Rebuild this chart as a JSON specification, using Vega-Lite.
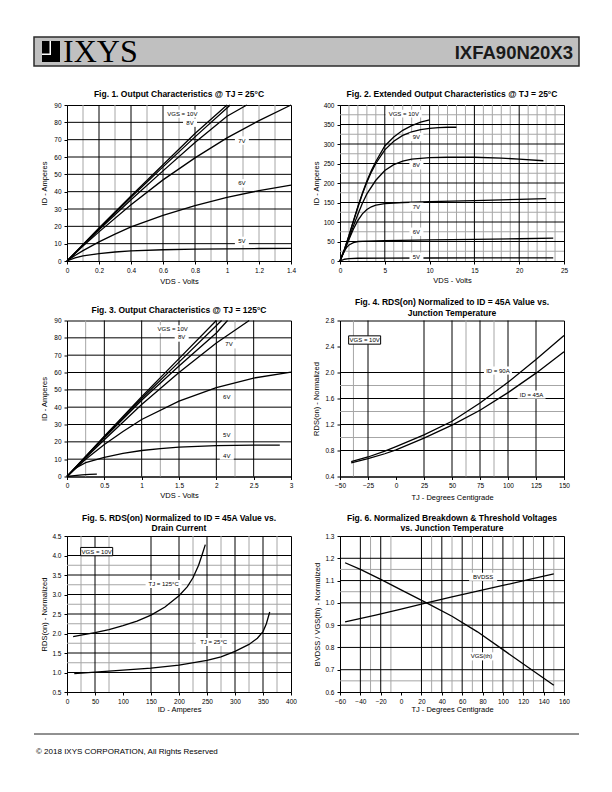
{
"$schema":"https://vega.github.io/schema/vega-lite/v6.json",
"background":"white",
"padding":{"left":33,"top":36,"right":0,"bottom":0},
"spacing":19,
"config":{
 "font":"Liberation Sans",
 "view":{"stroke":"black","strokeWidth":1},
 "axis":{"grid":false,"domainColor":"black","domainWidth":1,"tickColor":"black","tickSize":3,"tickWidth":1,"labelFontSize":6.5,"labelColor":"black","labelFont":"Liberation Sans","labelPadding":3,"titleFontSize":7.5,"titleFontWeight":"normal","titleColor":"black","titleFont":"Liberation Sans","labelFlush":false,"labelOverlap":false},
 "title":{"fontSize":8.5,"fontWeight":"bold","font":"Liberation Sans","color":"black","frame":"group","anchor":"middle","baseline":"alphabetic","lineHeight":10.5},
 "text":{"font":"Liberation Sans"}
},
"datasets":{
 "hdrBox":[{"x":0,"x2":545,"y":4,"y2":33}],
 "hdrIcon":[{"p":"ink","x":8,"x2":26,"y":8,"y2":29},{"p":"gap","x":15.5,"x2":17,"y":15,"y2":29},{"p":"gap","x":8,"x2":17,"y":15,"y2":16.5}],
 "hdrText":[{"x":29,"y":8,"t":"IXYS"},{"x":539,"y":11.5,"t":"IXFA90N20X3"}],
 "ftrLine":[{"y":22}],
 "ftrText":[{"x":2,"y":2,"t":"© 2018 IXYS CORPORATION, All Rights Reserved"}],
 "g1":[{"k":"vm","x":0.1},{"k":"vm","x":0.3},{"k":"vm","x":0.5},{"k":"vm","x":0.7},{"k":"vm","x":0.9},{"k":"vm","x":1.1},{"k":"vm","x":1.2},{"k":"vm","x":1.3},{"k":"vM","x":0.2},{"k":"vM","x":0.4},{"k":"vM","x":0.6},{"k":"vM","x":0.8},{"k":"vM","x":1.0},{"k":"hM","y":10},{"k":"hM","y":20},{"k":"hM","y":30},{"k":"hM","y":40},{"k":"hM","y":50},{"k":"hM","y":60},{"k":"hM","y":70},{"k":"hM","y":80}],
 "g2":[{"k":"vm","x":1},{"k":"vm","x":2},{"k":"vm","x":3},{"k":"vm","x":4},{"k":"vm","x":6},{"k":"vm","x":7},{"k":"vm","x":8},{"k":"vm","x":9},{"k":"vm","x":11},{"k":"vm","x":12},{"k":"vm","x":13},{"k":"vm","x":14},{"k":"vm","x":16},{"k":"vm","x":17},{"k":"vm","x":18},{"k":"vm","x":19},{"k":"vm","x":21},{"k":"vm","x":22},{"k":"vm","x":23},{"k":"vm","x":24},{"k":"vM","x":5},{"k":"vM","x":10},{"k":"vM","x":15},{"k":"vM","x":20},{"k":"hm","y":25},{"k":"hm","y":75},{"k":"hm","y":125},{"k":"hm","y":175},{"k":"hm","y":225},{"k":"hm","y":275},{"k":"hm","y":325},{"k":"hm","y":375},{"k":"hM","y":50},{"k":"hM","y":100},{"k":"hM","y":150},{"k":"hM","y":200},{"k":"hM","y":250},{"k":"hM","y":300},{"k":"hM","y":350}],
 "g3":[{"k":"vm","x":0.25},{"k":"vm","x":1.25},{"k":"vm","x":2.25},{"k":"vM","x":0.5},{"k":"vM","x":1},{"k":"vM","x":1.5},{"k":"vM","x":2},{"k":"vM","x":2.5},{"k":"hM","y":10},{"k":"hM","y":20},{"k":"hM","y":30},{"k":"hM","y":40},{"k":"hM","y":50},{"k":"hM","y":60},{"k":"hM","y":70},{"k":"hM","y":80}],
 "g4":[{"k":"vm","x":-38},{"k":"vm","x":62.5},{"k":"vm","x":87.5},{"k":"vM","x":-25},{"k":"vM","x":25},{"k":"vM","x":50},{"k":"vM","x":75},{"k":"vM","x":100},{"k":"vM","x":125},{"k":"hm","y":1.0},{"k":"hm","y":1.4},{"k":"hm","y":1.8},{"k":"hM","y":0.8},{"k":"hM","y":1.2},{"k":"hM","y":1.6},{"k":"hM","y":2.0}],
 "g5":[{"k":"vm","x":25},{"k":"vm","x":75},{"k":"vm","x":225},{"k":"vm","x":275},{"k":"vm","x":325},{"k":"vm","x":375},{"k":"vM","x":50},{"k":"vM","x":150},{"k":"vM","x":200},{"k":"vM","x":250},{"k":"vM","x":300},{"k":"vM","x":350},{"k":"hm","y":1.25},{"k":"hm","y":1.75},{"k":"hm","y":2.25},{"k":"hm","y":2.75},{"k":"hm","y":3.25},{"k":"hm","y":3.75},{"k":"hM","y":1.0},{"k":"hM","y":1.5},{"k":"hM","y":2.0},{"k":"hM","y":2.5},{"k":"hM","y":3.0},{"k":"hM","y":3.5},{"k":"hM","y":4.0}],
 "g6":[{"k":"vm","x":-30},{"k":"vm","x":-10},{"k":"vm","x":30},{"k":"vm","x":50},{"k":"vm","x":70},{"k":"vm","x":90},{"k":"vm","x":110},{"k":"vm","x":130},{"k":"vm","x":150},{"k":"vM","x":-40},{"k":"vM","x":-20},{"k":"vM","x":20},{"k":"vM","x":40},{"k":"vM","x":60},{"k":"vM","x":80},{"k":"vM","x":100},{"k":"vM","x":120},{"k":"vM","x":140},{"k":"hm","y":0.65},{"k":"hm","y":1.05},{"k":"hm","y":1.15},{"k":"hM","y":0.7},{"k":"hM","y":0.8},{"k":"hM","y":0.9},{"k":"hM","y":1.0},{"k":"hM","y":1.1},{"k":"hM","y":1.2}],
 "c1":[
  {"s":"10V","x":0,"y":0},{"s":"10V","x":0.1,"y":9.5},{"s":"10V","x":0.2,"y":19},{"s":"10V","x":0.4,"y":37.5},{"s":"10V","x":0.6,"y":55.5},{"s":"10V","x":0.8,"y":73.5},{"s":"10V","x":1.0,"y":90},
  {"s":"9V","x":0,"y":0},{"s":"9V","x":0.1,"y":9.3},{"s":"9V","x":0.2,"y":18.6},{"s":"9V","x":0.4,"y":36.8},{"s":"9V","x":0.6,"y":54.3},{"s":"9V","x":0.8,"y":71.6},{"s":"9V","x":1.0,"y":88.3},{"s":"9V","x":1.02,"y":90},
  {"s":"8V","x":0,"y":0},{"s":"8V","x":0.1,"y":9.1},{"s":"8V","x":0.2,"y":18},{"s":"8V","x":0.4,"y":35.3},{"s":"8V","x":0.6,"y":52},{"s":"8V","x":0.8,"y":68.3},{"s":"8V","x":1.0,"y":83.5},{"s":"8V","x":1.124,"y":90},
  {"s":"7V","x":0,"y":0},{"s":"7V","x":0.1,"y":8.6},{"s":"7V","x":0.2,"y":16.8},{"s":"7V","x":0.4,"y":32.5},{"s":"7V","x":0.6,"y":46.8},{"s":"7V","x":0.8,"y":59.5},{"s":"7V","x":1.0,"y":71},{"s":"7V","x":1.2,"y":81},{"s":"7V","x":1.4,"y":90},
  {"s":"6V","x":0,"y":0},{"s":"6V","x":0.05,"y":3.2},{"s":"6V","x":0.1,"y":6},{"s":"6V","x":0.2,"y":11},{"s":"6V","x":0.3,"y":15.5},{"s":"6V","x":0.4,"y":19.7},{"s":"6V","x":0.6,"y":26.3},{"s":"6V","x":0.8,"y":31.9},{"s":"6V","x":1.0,"y":36.7},{"s":"6V","x":1.2,"y":40.6},{"s":"6V","x":1.4,"y":43.8},
  {"s":"5V","x":0,"y":0},{"s":"5V","x":0.05,"y":1.8},{"s":"5V","x":0.1,"y":2.9},{"s":"5V","x":0.2,"y":4.2},{"s":"5V","x":0.3,"y":5.2},{"s":"5V","x":0.4,"y":5.8},{"s":"5V","x":0.6,"y":6.5},{"s":"5V","x":0.8,"y":6.8},{"s":"5V","x":1.0,"y":7.0},{"s":"5V","x":1.2,"y":7.2},{"s":"5V","x":1.4,"y":7.3}],
 "c2":[
  {"s":"10V","x":0,"y":0},{"s":"10V","x":0.5,"y":30},{"s":"10V","x":1,"y":65},{"s":"10V","x":1.5,"y":103},{"s":"10V","x":2,"y":140},{"s":"10V","x":2.5,"y":174},{"s":"10V","x":3,"y":205},{"s":"10V","x":3.5,"y":232},{"s":"10V","x":4,"y":255},{"s":"10V","x":5,"y":295},{"s":"10V","x":6,"y":318},{"s":"10V","x":7,"y":335},{"s":"10V","x":8,"y":347},{"s":"10V","x":9,"y":356},{"s":"10V","x":10,"y":362},
  {"s":"9V","x":0,"y":0},{"s":"9V","x":0.5,"y":30},{"s":"9V","x":1,"y":65},{"s":"9V","x":1.5,"y":102},{"s":"9V","x":2,"y":138},{"s":"9V","x":2.5,"y":172},{"s":"9V","x":3,"y":202},{"s":"9V","x":3.5,"y":228},{"s":"9V","x":4,"y":250},{"s":"9V","x":5,"y":285},{"s":"9V","x":6,"y":307},{"s":"9V","x":7,"y":322},{"s":"9V","x":8,"y":331},{"s":"9V","x":9,"y":337},{"s":"9V","x":10,"y":340},{"s":"9V","x":11,"y":342},{"s":"9V","x":12,"y":343},{"s":"9V","x":13,"y":343},
  {"s":"8V","x":0,"y":0},{"s":"8V","x":0.5,"y":28},{"s":"8V","x":1,"y":58},{"s":"8V","x":1.5,"y":90},{"s":"8V","x":2,"y":120},{"s":"8V","x":2.5,"y":148},{"s":"8V","x":3,"y":172},{"s":"8V","x":4,"y":207},{"s":"8V","x":5,"y":232},{"s":"8V","x":6,"y":247},{"s":"8V","x":7,"y":256},{"s":"8V","x":8,"y":261},{"s":"8V","x":10,"y":265},{"s":"8V","x":12,"y":266},{"s":"8V","x":15,"y":266},{"s":"8V","x":18,"y":264},{"s":"8V","x":20,"y":261},{"s":"8V","x":22.7,"y":257},
  {"s":"7V","x":0,"y":0},{"s":"7V","x":0.5,"y":27},{"s":"7V","x":1,"y":55},{"s":"7V","x":1.5,"y":82},{"s":"7V","x":2,"y":104},{"s":"7V","x":2.5,"y":121},{"s":"7V","x":3,"y":132},{"s":"7V","x":3.5,"y":139},{"s":"7V","x":4,"y":143},{"s":"7V","x":5,"y":147},{"s":"7V","x":7,"y":150},{"s":"7V","x":10,"y":152},{"s":"7V","x":15,"y":155},{"s":"7V","x":20,"y":158},{"s":"7V","x":23,"y":160},
  {"s":"6V","x":0,"y":0},{"s":"6V","x":0.25,"y":14},{"s":"6V","x":0.5,"y":26},{"s":"6V","x":0.75,"y":35},{"s":"6V","x":1,"y":41},{"s":"6V","x":1.5,"y":47},{"s":"6V","x":2,"y":50},{"s":"6V","x":3,"y":51},{"s":"6V","x":5,"y":52},{"s":"6V","x":10,"y":54},{"s":"6V","x":15,"y":55.5},{"s":"6V","x":20,"y":57},{"s":"6V","x":23.8,"y":58.5},
  {"s":"5V","x":0,"y":0},{"s":"5V","x":0.25,"y":2.5},{"s":"5V","x":0.5,"y":4.5},{"s":"5V","x":1,"y":6},{"s":"5V","x":2,"y":7},{"s":"5V","x":5,"y":7.5},{"s":"5V","x":10,"y":7.7},{"s":"5V","x":15,"y":7.8},{"s":"5V","x":20,"y":7.9},{"s":"5V","x":23.8,"y":8}],
 "c3":[
  {"s":"10V","x":0,"y":0},{"s":"10V","x":0.25,"y":11.6},{"s":"10V","x":0.5,"y":23.2},{"s":"10V","x":1,"y":46},{"s":"10V","x":1.5,"y":68},{"s":"10V","x":2,"y":90},
  {"s":"9V","x":0,"y":0},{"s":"9V","x":0.25,"y":11.5},{"s":"9V","x":0.5,"y":22.9},{"s":"9V","x":1,"y":45},{"s":"9V","x":1.5,"y":66},{"s":"9V","x":2.07,"y":90},
  {"s":"8V","x":0,"y":0},{"s":"8V","x":0.25,"y":11.3},{"s":"8V","x":0.5,"y":22.4},{"s":"8V","x":1,"y":44},{"s":"8V","x":1.5,"y":63.8},{"s":"8V","x":2,"y":82.8},{"s":"8V","x":2.15,"y":90},
  {"s":"7V","x":0,"y":0},{"s":"7V","x":0.25,"y":10.8},{"s":"7V","x":0.5,"y":21.2},{"s":"7V","x":1,"y":41.5},{"s":"7V","x":1.5,"y":60},{"s":"7V","x":2,"y":77},{"s":"7V","x":2.44,"y":90},
  {"s":"6V","x":0,"y":0},{"s":"6V","x":0.25,"y":10},{"s":"6V","x":0.5,"y":18.5},{"s":"6V","x":0.75,"y":26},{"s":"6V","x":1,"y":32.9},{"s":"6V","x":1.5,"y":43.5},{"s":"6V","x":2,"y":51.3},{"s":"6V","x":2.5,"y":56.8},{"s":"6V","x":3,"y":60.2},
  {"s":"5V","x":0,"y":0},{"s":"5V","x":0.1,"y":4.5},{"s":"5V","x":0.25,"y":8},{"s":"5V","x":0.5,"y":11},{"s":"5V","x":0.75,"y":13.3},{"s":"5V","x":1,"y":15},{"s":"5V","x":1.25,"y":16.1},{"s":"5V","x":1.5,"y":16.9},{"s":"5V","x":2,"y":17.8},{"s":"5V","x":2.5,"y":18.1},{"s":"5V","x":2.85,"y":18.1},
  {"s":"4V","x":0,"y":0},{"s":"4V","x":0.1,"y":0.5},{"s":"4V","x":0.2,"y":0.9},{"s":"4V","x":0.3,"y":1.2},{"s":"4V","x":0.4,"y":1.4}],
 "c4":[
  {"s":"90A","x":-40,"y":0.63},{"s":"90A","x":-25,"y":0.70},{"s":"90A","x":-10,"y":0.79},{"s":"90A","x":0,"y":0.86},{"s":"90A","x":25,"y":1.04},{"s":"90A","x":50,"y":1.25},{"s":"90A","x":75,"y":1.53},{"s":"90A","x":100,"y":1.85},{"s":"90A","x":125,"y":2.20},{"s":"90A","x":150,"y":2.57},
  {"s":"45A","x":-40,"y":0.61},{"s":"45A","x":-25,"y":0.675},{"s":"45A","x":-10,"y":0.75},{"s":"45A","x":0,"y":0.81},{"s":"45A","x":25,"y":0.99},{"s":"45A","x":50,"y":1.19},{"s":"45A","x":75,"y":1.42},{"s":"45A","x":100,"y":1.69},{"s":"45A","x":125,"y":1.99},{"s":"45A","x":150,"y":2.32}],
 "c5":[
  {"s":"125C","x":11,"y":1.92},{"s":"125C","x":25,"y":1.96},{"s":"125C","x":50,"y":2.02},{"s":"125C","x":75,"y":2.10},{"s":"125C","x":100,"y":2.20},{"s":"125C","x":125,"y":2.32},{"s":"125C","x":150,"y":2.47},{"s":"125C","x":175,"y":2.68},{"s":"125C","x":200,"y":2.97},{"s":"125C","x":215,"y":3.2},{"s":"125C","x":225,"y":3.43},{"s":"125C","x":235,"y":3.75},{"s":"125C","x":242,"y":4.05},{"s":"125C","x":247,"y":4.28},
  {"s":"25C","x":13,"y":0.97},{"s":"25C","x":50,"y":1.01},{"s":"25C","x":100,"y":1.06},{"s":"25C","x":150,"y":1.11},{"s":"25C","x":200,"y":1.19},{"s":"25C","x":250,"y":1.31},{"s":"25C","x":275,"y":1.40},{"s":"25C","x":300,"y":1.54},{"s":"25C","x":325,"y":1.72},{"s":"25C","x":340,"y":1.88},{"s":"25C","x":350,"y":2.05},{"s":"25C","x":356,"y":2.25},{"s":"25C","x":362,"y":2.55}],
 "c6":[
  {"s":"vgs","x":-55,"y":1.18},{"s":"vgs","x":-40,"y":1.15},{"s":"vgs","x":-20,"y":1.105},{"s":"vgs","x":0,"y":1.058},{"s":"vgs","x":25,"y":1.0},{"s":"vgs","x":50,"y":0.94},{"s":"vgs","x":75,"y":0.87},{"s":"vgs","x":100,"y":0.79},{"s":"vgs","x":125,"y":0.71},{"s":"vgs","x":150,"y":0.63},
  {"s":"bv","x":-55,"y":0.915},{"s":"bv","x":-25,"y":0.945},{"s":"bv","x":0,"y":0.972},{"s":"bv","x":25,"y":1.0},{"s":"bv","x":50,"y":1.027},{"s":"bv","x":75,"y":1.053},{"s":"bv","x":100,"y":1.078},{"s":"bv","x":125,"y":1.104},{"s":"bv","x":150,"y":1.13}],
 "l1":[{"x":0.721,"y":85,"t":"VGS = 10V"},{"x":0.769,"y":79.8,"t":"8V"},{"x":1.093,"y":69.5,"t":"7V"},{"x":1.093,"y":44.8,"t":"6V"},{"x":1.093,"y":11.6,"t":"5V"}],
 "l2":[{"x":7.12,"y":377.8,"t":"VGS = 10V"},{"x":8.53,"y":318,"t":"9V"},{"x":8.53,"y":245.6,"t":"8V"},{"x":8.53,"y":139,"t":"7V"},{"x":8.53,"y":75,"t":"6V"},{"x":8.53,"y":11,"t":"5V"}],
 "l3":[{"x":1.415,"y":85,"t":"VGS = 10V"},{"x":1.536,"y":80.2,"t":"8V"},{"x":2.17,"y":76.3,"t":"7V"},{"x":2.14,"y":45.6,"t":"6V"},{"x":2.14,"y":23.7,"t":"5V"},{"x":2.14,"y":12.1,"t":"4V"}],
 "l4":[{"x":-28,"y":2.5,"t":"VGS = 10V"},{"x":91,"y":2.03,"t":"ID = 90A"},{"x":121,"y":1.66,"t":"ID = 45A"}],
 "l5":[{"x":53,"y":4.1,"t":"VGS = 10V"},{"x":172.5,"y":3.27,"t":"TJ = 125°C"},{"x":262,"y":1.78,"t":"TJ = 25°C"}],
 "l6":[{"x":80.6,"y":1.117,"t":"BVDSS"},{"x":79,"y":0.76,"t":"VGS(th)"}]
},
"vconcat":[
 {
  "width":545,"height":33,"view":{"stroke":null},
  "layer":[
   {"data":{"name":"hdrBox"},"mark":{"type":"rect","color":"#c0c0c0","stroke":"#2b2b2b","strokeWidth":1.5},"encoding":{"x":{"field":"x","type":"quantitative","scale":{"domain":[0,545],"nice":false,"zero":false},"axis":null},"x2":{"field":"x2"},"y":{"field":"y","type":"quantitative","scale":{"domain":[0,33],"nice":false,"zero":false},"axis":null},"y2":{"field":"y2"}}},
   {"data":{"name":"hdrIcon"},"transform":[{"filter":"datum.p == 'ink'"}],"mark":{"type":"rect","color":"black"},"encoding":{"x":{"field":"x","type":"quantitative","axis":null},"x2":{"field":"x2"},"y":{"field":"y","type":"quantitative","axis":null},"y2":{"field":"y2"}}},
   {"data":{"name":"hdrIcon"},"transform":[{"filter":"datum.p == 'gap'"}],"mark":{"type":"rect","color":"white"},"encoding":{"x":{"field":"x","type":"quantitative","axis":null},"x2":{"field":"x2"},"y":{"field":"y","type":"quantitative","axis":null},"y2":{"field":"y2"}}},
   {"data":{"name":"hdrText"},"transform":[{"filter":"datum.t == 'IXYS'"}],"mark":{"type":"text","font":"Liberation Serif","fontSize":32,"align":"left","baseline":"alphabetic","color":"black"},"encoding":{"x":{"field":"x","type":"quantitative","axis":null},"y":{"field":"y","type":"quantitative","axis":null},"text":{"field":"t"}}},
   {"data":{"name":"hdrText"},"transform":[{"filter":"datum.t != 'IXYS'"}],"mark":{"type":"text","font":"Liberation Sans","fontWeight":"bold","fontSize":18.5,"align":"right","baseline":"alphabetic","color":"#1a1a1a"},"encoding":{"x":{"field":"x","type":"quantitative","axis":null},"y":{"field":"y","type":"quantitative","axis":null},"text":{"field":"t"}}}
  ]
 },
 {
  "hconcat":[
   {"width":6,"height":2,"view":{"stroke":null,"fill":"white"},"data":{"values":[]},"mark":"point"},
   {
    "columns":2,"spacing":{"row":59.5,"column":49},"bounds":"flush",
    "concat":[
     {"width":224,"height":156,"title":{"text":"Fig. 1. Output Characteristics @ TJ = 25°C","offset":3.5},
      "layer":[
       {"data":{"name":"g1"},"transform":[{"filter":"datum.k == 'vm'"}],"mark":{"type":"rule","color":"#a6a6a6","strokeWidth":1},"encoding":{"x":{"field":"x","type":"quantitative"}}},
       {"data":{"name":"g1"},"transform":[{"filter":"datum.k == 'hm'"}],"mark":{"type":"rule","color":"#a6a6a6","strokeWidth":1},"encoding":{"y":{"field":"y","type":"quantitative"}}},
       {"data":{"name":"g1"},"transform":[{"filter":"datum.k == 'vM'"}],"mark":{"type":"rule","color":"black","strokeWidth":1},"encoding":{"x":{"field":"x","type":"quantitative"}}},
       {"data":{"name":"g1"},"transform":[{"filter":"datum.k == 'hM'"}],"mark":{"type":"rule","color":"black","strokeWidth":1},"encoding":{"y":{"field":"y","type":"quantitative"}}},
       {"data":{"name":"c1"},"mark":{"type":"line","color":"black","strokeWidth":1.3},"encoding":{
         "x":{"field":"x","type":"quantitative","scale":{"domain":[0,1.4],"nice":false,"zero":false},"axis":{"values":[0,0.2,0.4,0.6,0.8,1,1.2,1.4],"tickCount":100,"format":"~g","title":"VDS - Volts","titlePadding":4}},
         "y":{"field":"y","type":"quantitative","scale":{"domain":[0,90],"nice":false,"zero":false},"axis":{"values":[0,10,20,30,40,50,60,70,80,90],"tickCount":100,"format":"~g","title":"ID - Amperes","titlePadding":5}},
         "detail":{"field":"s","type":"nominal"}}},
       {"data":{"name":"l1"},"transform":[{"filter":"length(datum.t) >= 9"}],"mark":{"type":"point","shape":"M-1,-0.22H1V0.22H-1Z","size":1296,"filled":true,"color":"white","opacity":1,"strokeWidth":0},"encoding":{"x":{"field":"x","type":"quantitative"},"y":{"field":"y","type":"quantitative"}}},
       {"data":{"name":"l1"},"transform":[{"filter":"length(datum.t) < 5"}],"mark":{"type":"point","shape":"M-1,-0.6H1V0.6H-1Z","size":196,"filled":true,"color":"white","opacity":1,"strokeWidth":0},"encoding":{"x":{"field":"x","type":"quantitative"},"y":{"field":"y","type":"quantitative"}}},
       {"data":{"name":"l1"},"mark":{"type":"text","fontSize":6,"color":"black","align":"center","baseline":"middle"},"encoding":{"x":{"field":"x","type":"quantitative"},"y":{"field":"y","type":"quantitative"},"text":{"field":"t"}}}
      ]},
     {"width":224,"height":156,"title":{"text":"Fig. 2. Extended Output Characteristics @ TJ = 25°C","offset":3.5},
      "layer":[
       {"data":{"name":"g2"},"transform":[{"filter":"datum.k == 'vm'"}],"mark":{"type":"rule","color":"#a6a6a6","strokeWidth":1},"encoding":{"x":{"field":"x","type":"quantitative"}}},
       {"data":{"name":"g2"},"transform":[{"filter":"datum.k == 'hm'"}],"mark":{"type":"rule","color":"#a6a6a6","strokeWidth":1},"encoding":{"y":{"field":"y","type":"quantitative"}}},
       {"data":{"name":"g2"},"transform":[{"filter":"datum.k == 'vM'"}],"mark":{"type":"rule","color":"black","strokeWidth":1},"encoding":{"x":{"field":"x","type":"quantitative"}}},
       {"data":{"name":"g2"},"transform":[{"filter":"datum.k == 'hM'"}],"mark":{"type":"rule","color":"black","strokeWidth":1},"encoding":{"y":{"field":"y","type":"quantitative"}}},
       {"data":{"name":"c2"},"mark":{"type":"line","color":"black","strokeWidth":1.3},"encoding":{
         "x":{"field":"x","type":"quantitative","scale":{"domain":[0,25],"nice":false,"zero":false},"axis":{"values":[0,5,10,15,20,25],"tickCount":100,"format":"~g","title":"VDS - Volts","titlePadding":3}},
         "y":{"field":"y","type":"quantitative","scale":{"domain":[0,400],"nice":false,"zero":false},"axis":{"values":[0,50,100,150,200,250,300,350,400],"tickCount":100,"format":"~g","title":"ID - Amperes","titlePadding":2.3}},
         "detail":{"field":"s","type":"nominal"}}},
       {"data":{"name":"l2"},"transform":[{"filter":"length(datum.t) >= 9"}],"mark":{"type":"point","shape":"M-1,-0.22H1V0.22H-1Z","size":1296,"filled":true,"color":"white","opacity":1,"strokeWidth":0},"encoding":{"x":{"field":"x","type":"quantitative"},"y":{"field":"y","type":"quantitative"}}},
       {"data":{"name":"l2"},"transform":[{"filter":"length(datum.t) < 5"}],"mark":{"type":"point","shape":"M-1,-0.6H1V0.6H-1Z","size":196,"filled":true,"color":"white","opacity":1,"strokeWidth":0},"encoding":{"x":{"field":"x","type":"quantitative"},"y":{"field":"y","type":"quantitative"}}},
       {"data":{"name":"l2"},"mark":{"type":"text","fontSize":6,"color":"black","align":"center","baseline":"middle"},"encoding":{"x":{"field":"x","type":"quantitative"},"y":{"field":"y","type":"quantitative"},"text":{"field":"t"}}}
      ]},
     {"width":224,"height":156,"title":{"text":"Fig. 3. Output Characteristics @ TJ = 125°C","offset":3.5},
      "layer":[
       {"data":{"name":"g3"},"transform":[{"filter":"datum.k == 'vm'"}],"mark":{"type":"rule","color":"#a6a6a6","strokeWidth":1},"encoding":{"x":{"field":"x","type":"quantitative"}}},
       {"data":{"name":"g3"},"transform":[{"filter":"datum.k == 'hm'"}],"mark":{"type":"rule","color":"#a6a6a6","strokeWidth":1},"encoding":{"y":{"field":"y","type":"quantitative"}}},
       {"data":{"name":"g3"},"transform":[{"filter":"datum.k == 'vM'"}],"mark":{"type":"rule","color":"black","strokeWidth":1},"encoding":{"x":{"field":"x","type":"quantitative"}}},
       {"data":{"name":"g3"},"transform":[{"filter":"datum.k == 'hM'"}],"mark":{"type":"rule","color":"black","strokeWidth":1},"encoding":{"y":{"field":"y","type":"quantitative"}}},
       {"data":{"name":"c3"},"mark":{"type":"line","color":"black","strokeWidth":1.3},"encoding":{
         "x":{"field":"x","type":"quantitative","scale":{"domain":[0,3],"nice":false,"zero":false},"axis":{"values":[0,0.5,1,1.5,2,2.5,3],"tickCount":100,"format":"~g","title":"VDS - Volts","titlePadding":2}},
         "y":{"field":"y","type":"quantitative","scale":{"domain":[0,90],"nice":false,"zero":false},"axis":{"values":[0,10,20,30,40,50,60,70,80,90],"tickCount":100,"format":"~g","title":"ID - Amperes","titlePadding":5}},
         "detail":{"field":"s","type":"nominal"}}},
       {"data":{"name":"l3"},"transform":[{"filter":"length(datum.t) >= 9"}],"mark":{"type":"point","shape":"M-1,-0.22H1V0.22H-1Z","size":1296,"filled":true,"color":"white","opacity":1,"strokeWidth":0},"encoding":{"x":{"field":"x","type":"quantitative"},"y":{"field":"y","type":"quantitative"}}},
       {"data":{"name":"l3"},"transform":[{"filter":"length(datum.t) < 5"}],"mark":{"type":"point","shape":"M-1,-0.6H1V0.6H-1Z","size":196,"filled":true,"color":"white","opacity":1,"strokeWidth":0},"encoding":{"x":{"field":"x","type":"quantitative"},"y":{"field":"y","type":"quantitative"}}},
       {"data":{"name":"l3"},"mark":{"type":"text","fontSize":6,"color":"black","align":"center","baseline":"middle"},"encoding":{"x":{"field":"x","type":"quantitative"},"y":{"field":"y","type":"quantitative"},"text":{"field":"t"}}}
      ]},
     {"width":224,"height":156,"title":{"text":["Fig. 4. RDS(on) Normalized to ID = 45A Value vs.","Junction Temperature"],"offset":0.5},
      "layer":[
       {"data":{"name":"g4"},"transform":[{"filter":"datum.k == 'vm'"}],"mark":{"type":"rule","color":"#a6a6a6","strokeWidth":1},"encoding":{"x":{"field":"x","type":"quantitative"}}},
       {"data":{"name":"g4"},"transform":[{"filter":"datum.k == 'hm'"}],"mark":{"type":"rule","color":"#a6a6a6","strokeWidth":1},"encoding":{"y":{"field":"y","type":"quantitative"}}},
       {"data":{"name":"g4"},"transform":[{"filter":"datum.k == 'vM'"}],"mark":{"type":"rule","color":"black","strokeWidth":1},"encoding":{"x":{"field":"x","type":"quantitative"}}},
       {"data":{"name":"g4"},"transform":[{"filter":"datum.k == 'hM'"}],"mark":{"type":"rule","color":"black","strokeWidth":1},"encoding":{"y":{"field":"y","type":"quantitative"}}},
       {"data":{"name":"c4"},"mark":{"type":"line","color":"black","strokeWidth":1.3},"encoding":{
         "x":{"field":"x","type":"quantitative","scale":{"domain":[-50,150],"nice":false,"zero":false},"axis":{"values":[-50,-25,0,25,50,75,100,125,150],"tickCount":100,"format":"~g","title":"TJ - Degrees Centigrade","titlePadding":4}},
         "y":{"field":"y","type":"quantitative","scale":{"domain":[0.4,2.8],"nice":false,"zero":false},"axis":{"values":[0.4,0.8,1.2,1.6,2.0,2.4,2.8],"tickCount":100,"format":".1f","title":"RDS(on) - Normalized","titlePadding":4.5}},
         "detail":{"field":"s","type":"nominal"}}},
       {"data":{"name":"l4"},"transform":[{"filter":"indexof(datum.t, 'VGS') == 0"}],"mark":{"type":"point","shape":"M-1,-0.26H1V0.26H-1Z","size":1024,"filled":true,"fill":"white","stroke":"black","strokeWidth":1,"opacity":1},"encoding":{"x":{"field":"x","type":"quantitative"},"y":{"field":"y","type":"quantitative"}}},
       {"data":{"name":"l4"},"transform":[{"filter":"indexof(datum.t, 'VGS') != 0"}],"mark":{"type":"point","shape":"M-1,-0.29H1V0.29H-1Z","size":784,"filled":true,"color":"white","opacity":1,"strokeWidth":0},"encoding":{"x":{"field":"x","type":"quantitative"},"y":{"field":"y","type":"quantitative"}}},
       {"data":{"name":"l4"},"mark":{"type":"text","fontSize":6,"color":"black","align":"center","baseline":"middle"},"encoding":{"x":{"field":"x","type":"quantitative"},"y":{"field":"y","type":"quantitative"},"text":{"field":"t"}}}
      ]},
     {"width":224,"height":156,"title":{"text":["Fig. 5. RDS(on) Normalized to ID = 45A Value vs.","Drain Current"],"offset":0.5},
      "layer":[
       {"data":{"name":"g5"},"transform":[{"filter":"datum.k == 'vm'"}],"mark":{"type":"rule","color":"#a6a6a6","strokeWidth":1},"encoding":{"x":{"field":"x","type":"quantitative"}}},
       {"data":{"name":"g5"},"transform":[{"filter":"datum.k == 'hm'"}],"mark":{"type":"rule","color":"#a6a6a6","strokeWidth":1},"encoding":{"y":{"field":"y","type":"quantitative"}}},
       {"data":{"name":"g5"},"transform":[{"filter":"datum.k == 'vM'"}],"mark":{"type":"rule","color":"black","strokeWidth":1},"encoding":{"x":{"field":"x","type":"quantitative"}}},
       {"data":{"name":"g5"},"transform":[{"filter":"datum.k == 'hM'"}],"mark":{"type":"rule","color":"black","strokeWidth":1},"encoding":{"y":{"field":"y","type":"quantitative"}}},
       {"data":{"name":"c5"},"mark":{"type":"line","color":"black","strokeWidth":1.3},"encoding":{
         "x":{"field":"x","type":"quantitative","scale":{"domain":[0,400],"nice":false,"zero":false},"axis":{"values":[0,50,100,150,200,250,300,350,400],"tickCount":100,"format":"~g","title":"ID - Amperes","titlePadding":1}},
         "y":{"field":"y","type":"quantitative","scale":{"domain":[0.5,4.5],"nice":false,"zero":false},"axis":{"values":[0.5,1.0,1.5,2.0,2.5,3.0,3.5,4.0,4.5],"tickCount":100,"format":".1f","title":"RDS(on) - Normalized","titlePadding":3}},
         "detail":{"field":"s","type":"nominal"}}},
       {"data":{"name":"l5"},"transform":[{"filter":"indexof(datum.t, 'VGS') == 0"}],"mark":{"type":"point","shape":"M-1,-0.26H1V0.26H-1Z","size":1024,"filled":true,"fill":"white","stroke":"black","strokeWidth":1,"opacity":1},"encoding":{"x":{"field":"x","type":"quantitative"},"y":{"field":"y","type":"quantitative"}}},
       {"data":{"name":"l5"},"transform":[{"filter":"indexof(datum.t, 'VGS') != 0"}],"mark":{"type":"point","shape":"M-1,-0.22H1V0.22H-1Z","size":1296,"filled":true,"color":"white","opacity":1,"strokeWidth":0},"encoding":{"x":{"field":"x","type":"quantitative"},"y":{"field":"y","type":"quantitative"}}},
       {"data":{"name":"l5"},"mark":{"type":"text","fontSize":6,"color":"black","align":"center","baseline":"middle"},"encoding":{"x":{"field":"x","type":"quantitative"},"y":{"field":"y","type":"quantitative"},"text":{"field":"t"}}}
      ]},
     {"width":224,"height":156,"title":{"text":["Fig. 6. Normalized Breakdown & Threshold Voltages","vs. Junction Temperature"],"offset":0.5},
      "layer":[
       {"data":{"name":"g6"},"transform":[{"filter":"datum.k == 'vm'"}],"mark":{"type":"rule","color":"#a6a6a6","strokeWidth":1},"encoding":{"x":{"field":"x","type":"quantitative"}}},
       {"data":{"name":"g6"},"transform":[{"filter":"datum.k == 'hm'"}],"mark":{"type":"rule","color":"#a6a6a6","strokeWidth":1},"encoding":{"y":{"field":"y","type":"quantitative"}}},
       {"data":{"name":"g6"},"transform":[{"filter":"datum.k == 'vM'"}],"mark":{"type":"rule","color":"black","strokeWidth":1},"encoding":{"x":{"field":"x","type":"quantitative"}}},
       {"data":{"name":"g6"},"transform":[{"filter":"datum.k == 'hM'"}],"mark":{"type":"rule","color":"black","strokeWidth":1},"encoding":{"y":{"field":"y","type":"quantitative"}}},
       {"data":{"name":"c6"},"mark":{"type":"line","color":"black","strokeWidth":1.3},"encoding":{
         "x":{"field":"x","type":"quantitative","scale":{"domain":[-60,160],"nice":false,"zero":false},"axis":{"values":[-60,-40,-20,0,20,40,60,80,100,120,140,160],"tickCount":100,"format":"~g","title":"TJ - Degrees Centigrade","titlePadding":0.5}},
         "y":{"field":"y","type":"quantitative","scale":{"domain":[0.6,1.3],"nice":false,"zero":false},"axis":{"values":[0.6,0.7,0.8,0.9,1.0,1.1,1.2,1.3],"tickCount":100,"format":".1f","title":"BVDSS / VGS(th) - Normalized","titlePadding":3.6}},
         "detail":{"field":"s","type":"nominal"}}},
       {"data":{"name":"l6"},"mark":{"type":"point","shape":"M-1,-0.29H1V0.29H-1Z","size":784,"filled":true,"color":"white","opacity":1,"strokeWidth":0},"encoding":{"x":{"field":"x","type":"quantitative"},"y":{"field":"y","type":"quantitative"}}},
       {"data":{"name":"l6"},"mark":{"type":"text","fontSize":6,"color":"black","align":"center","baseline":"middle"},"encoding":{"x":{"field":"x","type":"quantitative"},"y":{"field":"y","type":"quantitative"},"text":{"field":"t"}}}
      ]}
    ]
   }
  ],
  "spacing":0
 },
 {
  "width":545,"height":22,"view":{"stroke":null},
  "layer":[
   {"data":{"name":"ftrLine"},"mark":{"type":"rule","color":"#222222","strokeWidth":1},"encoding":{"y":{"field":"y","type":"quantitative","scale":{"domain":[0,22],"nice":false,"zero":false},"axis":null}}},
   {"data":{"name":"ftrText"},"mark":{"type":"text","align":"left","baseline":"alphabetic","fontSize":8,"font":"Liberation Sans","color":"black"},"encoding":{"x":{"field":"x","type":"quantitative","scale":{"domain":[0,545],"nice":false,"zero":false},"axis":null},"y":{"field":"y","type":"quantitative","axis":null},"text":{"field":"t"}}}
  ]
 }
]
}
